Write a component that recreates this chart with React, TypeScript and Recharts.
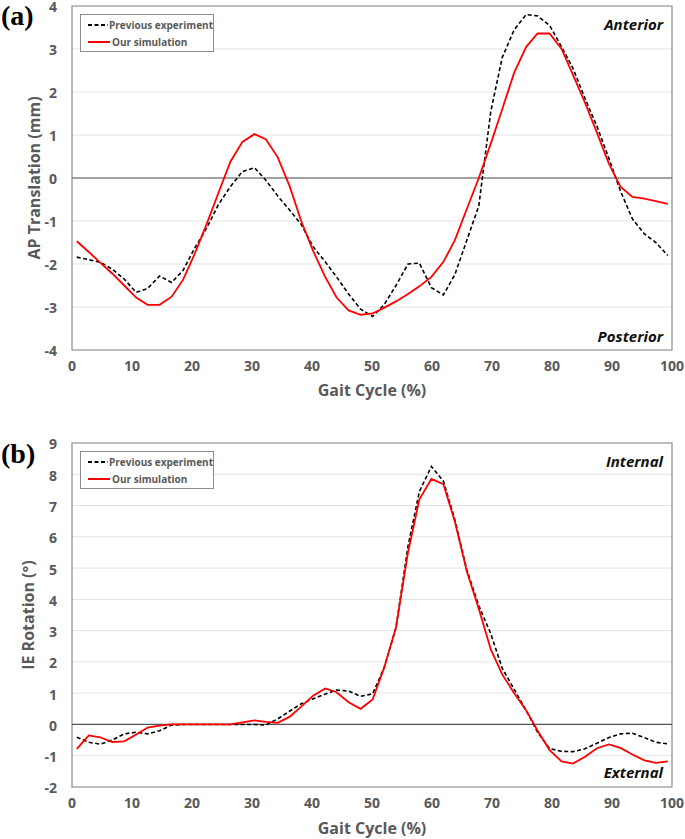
import React from "react";
import {
  LineChart,
  Line,
  XAxis,
  YAxis,
  CartesianGrid,
  ReferenceLine,
  ReferenceArea,
  Legend,
} from "recharts";

// gait cycle sample positions (%), shared by every series
const gaitCycle = [
  0.8, 2.8, 4.7, 6.7, 8.7, 10.7, 12.6, 14.6, 16.6, 18.5, 20.5, 22.5, 24.4, 26.4,
  28.4, 30.4, 32.3, 34.3, 36.3, 38.2, 40.2, 42.2, 44.1, 46.1, 48.1, 50.1, 52.0,
  54.0, 56.0, 57.9, 59.9, 61.9, 63.8, 65.8, 67.8, 69.8, 71.7, 73.7, 75.7, 77.6,
  79.6, 81.6, 83.5, 85.5, 87.5, 89.5, 91.4, 93.4, 95.4, 97.3, 99.3,
];

// (a) AP translation, mm
const apPrevious = [
  -1.84, -1.9, -1.96, -2.12, -2.35, -2.66, -2.57, -2.28, -2.43, -2.15, -1.62,
  -1.15, -0.62, -0.2, 0.15, 0.24, -0.05, -0.42, -0.75, -1.08, -1.6, -1.95, -2.3,
  -2.7, -3.05, -3.22, -2.95, -2.5, -2.0, -1.98, -2.55, -2.72, -2.25, -1.45,
  -0.65, 1.55, 2.8, 3.45, 3.8, 3.77, 3.55, 3.05, 2.55, 1.85, 1.2, 0.45, -0.3,
  -0.95, -1.3, -1.5, -1.8,
];
const apSimulation = [
  -1.47, -1.72, -1.97, -2.22, -2.5, -2.78, -2.95, -2.95, -2.76, -2.37, -1.75,
  -1.05, -0.35, 0.38, 0.84, 1.02, 0.9, 0.48, -0.2, -1.0, -1.7, -2.3, -2.78,
  -3.08, -3.18, -3.15, -3.02, -2.87, -2.7, -2.52, -2.3, -1.95, -1.45, -0.72,
  0.0, 0.8, 1.6, 2.45, 3.05, 3.36, 3.36, 3.0, 2.4, 1.75, 1.05, 0.33, -0.2,
  -0.44, -0.48, -0.54, -0.6,
];

// (b) IE rotation, degrees
const iePrevious = [
  -0.41, -0.57, -0.63, -0.5, -0.3, -0.25, -0.3, -0.2, -0.02, 0, 0, 0, 0, 0, 0,
  0, -0.02, 0.18, 0.43, 0.66, 0.82, 0.97, 1.1, 1.07, 0.9, 0.98, 1.8, 3.1, 5.7,
  7.45, 8.25, 7.78, 6.55, 4.95, 3.8, 2.9, 1.8, 1.12, 0.45, -0.25, -0.77, -0.86,
  -0.87, -0.78, -0.6, -0.42, -0.3, -0.28, -0.42, -0.57, -0.62,
];
const ieSimulation = [
  -0.78, -0.35, -0.41, -0.56, -0.54, -0.32, -0.1, -0.04, 0, 0, 0, 0, 0, 0,
  0.07, 0.13, 0.08, 0.05, 0.25, 0.57, 0.92, 1.15, 1.03, 0.71, 0.5, 0.8, 1.8,
  3.1, 5.5, 7.2, 7.85, 7.68, 6.5, 4.9, 3.7, 2.4, 1.6, 1.0, 0.45, -0.2, -0.82,
  -1.18, -1.25, -1.03, -0.76, -0.64, -0.75, -0.96, -1.15, -1.23, -1.18,
];

const xTicks = [0, 10, 20, 30, 40, 50, 60, 70, 80, 90, 100];
const apTicks = [-4, -3, -2, -1, 0, 1, 2, 3, 4];
const ieTicks = [-2, -1, 0, 1, 2, 3, 4, 5, 6, 7, 8, 9];
const seriesNames = ["Previous experiment", "Our simulation"];

const FONT = '"Open Sans", "Noto Sans", sans-serif';
const GRAY = "#595959";

const tickStyle = { fill: GRAY, fontSize: 14, fontWeight: 700, fontFamily: FONT };

// y tick sits ~1.5px under its gridline, like the original export
const YTick = ({ x, y, payload }: any) => (
  <text x={x} y={y + 1.5} dy="0.355em" textAnchor="end" {...tickStyle}>
    {payload.value}
  </text>
);

const LegendBox = ({ payload }: any) => {
  const items = [...(payload || [])].sort(
    (a: any, b: any) => seriesNames.indexOf(a.value) - seriesNames.indexOf(b.value)
  );
  return (
    <div
      style={{
        border: "1px solid #8c8c8c",
        background: "#fff",
        width: 134,
        height: 38,
        boxSizing: "border-box",
        fontFamily: FONT,
        fontWeight: 700,
        fontSize: 10,
        color: GRAY,
        paddingTop: 2,
        whiteSpace: "nowrap",
      }}
    >
      {items.map((p: any) => (
        <div key={p.value} style={{ display: "flex", alignItems: "center", height: 16.5 }}>
          <svg width={24} height={10} style={{ marginLeft: 6, marginRight: 1 }}>
            <line
              x1={1}
              y1={5}
              x2={23}
              y2={5}
              stroke={p.color}
              strokeWidth={2}
              strokeDasharray={p.payload?.strokeDasharray}
            />
          </svg>
          <span>{p.value}</span>
        </div>
      ))}
    </div>
  );
};

interface PanelProps {
  previous: number[];
  simulation: number[];
  yDomain: [number, number];
  yTicks: number[];
  height: number;
  top: number;
  xAxisHeight: number;
}

function Panel({ previous, simulation, yDomain, yTicks, height, top, xAxisHeight }: PanelProps) {
  const rows = gaitCycle.map((g, i) => ({ gait: g, previous: previous[i], simulation: simulation[i] }));
  return (
    <LineChart
      width={685}
      height={height}
      data={rows}
      margin={{ top, right: 13, left: 0, bottom: 0 }}
      style={{ overflow: "visible" }}
    >
      <CartesianGrid vertical={false} stroke="#e3e3e3" />
      <ReferenceArea
        x1={0}
        x2={100}
        y1={yDomain[0]}
        y2={yDomain[1]}
        fill="none"
        stroke="#8c8c8c"
        strokeWidth={1.2}
        ifOverflow="visible"
      />
      <ReferenceLine y={0} stroke="#555" strokeWidth={1.2} />
      <XAxis
        dataKey="gait"
        type="number"
        domain={[0, 100]}
        ticks={xTicks}
        tickLine={false}
        axisLine={false}
        tickSize={6}
        tickMargin={5}
        height={xAxisHeight}
        tick={tickStyle}
        interval={0}
      />
      <YAxis
        type="number"
        domain={yDomain}
        ticks={yTicks}
        tickLine={false}
        axisLine={false}
        tickSize={6}
        tickMargin={9}
        width={72}
        tick={<YTick />}
        interval={0}
      />
      <Legend
        layout="vertical"
        align="center"
        verticalAlign="middle"
        wrapperStyle={{ top: top + 8, left: 80, width: 134, height: 38 }}
        content={<LegendBox />}
      />
      <Line
        type="linear"
        dataKey="previous"
        name="Previous experiment"
        stroke="#000"
        strokeWidth={1.6}
        strokeDasharray="4 2.5"
        dot={false}
        isAnimationActive={false}
      />
      <Line
        type="linear"
        dataKey="simulation"
        name="Our simulation"
        stroke="#ff0000"
        strokeWidth={1.8}
        dot={false}
        isAnimationActive={false}
      />
    </LineChart>
  );
}

const abs = (style: React.CSSProperties): React.CSSProperties => ({ position: "absolute", ...style });

const panelLabel: React.CSSProperties = {
  fontFamily: '"Liberation Serif", "Times New Roman", serif',
  fontWeight: 700,
  fontSize: 28,
  lineHeight: 1,
  color: "#000",
};

const axisTitle: React.CSSProperties = {
  fontFamily: FONT,
  fontWeight: 700,
  fontSize: 16,
  color: GRAY,
  whiteSpace: "nowrap",
  lineHeight: 1,
};

const cornerNote: React.CSSProperties = {
  fontFamily: FONT,
  fontWeight: 700,
  fontStyle: "italic",
  fontSize: 15,
  color: "#111",
  whiteSpace: "nowrap",
  lineHeight: 1,
  transform: "translate(-100%, -50%)",
};

export default function App() {
  return (
    <div style={{ position: "absolute", left: 0, top: 0, width: 685, height: 839, background: "#fff" }}>
      <div style={abs({ left: 0, top: 0 })}>
        <Panel
          previous={apPrevious}
          simulation={apSimulation}
          yDomain={[-4, 4]}
          yTicks={apTicks}
          height={420}
          top={6}
          xAxisHeight={70}
        />
      </div>
      <div style={abs({ left: 0, top: 420 })}>
        <Panel
          previous={iePrevious}
          simulation={ieSimulation}
          yDomain={[-2, 9]}
          yTicks={ieTicks}
          height={419}
          top={23}
          xAxisHeight={52}
        />
      </div>

      <div style={abs({ left: 1, top: 2, ...panelLabel })}>(a)</div>
      <div style={abs({ left: 1, top: 440, ...panelLabel })}>(b)</div>

      <div style={abs({ left: 34, top: 178, ...axisTitle, transform: "translate(-50%, -50%) rotate(-90deg)" })}>
        AP Translation (mm)
      </div>
      <div style={abs({ left: 28, top: 615, ...axisTitle, transform: "translate(-50%, -50%) rotate(-90deg)" })}>
        IE Rotation (°)
      </div>
      <div style={abs({ left: 372, top: 390, ...axisTitle, transform: "translate(-50%, -50%)" })}>
        Gait Cycle (%)
      </div>
      <div style={abs({ left: 372, top: 828, ...axisTitle, transform: "translate(-50%, -50%)" })}>
        Gait Cycle (%)
      </div>

      <div style={abs({ left: 663, top: 24, ...cornerNote })}>Anterior</div>
      <div style={abs({ left: 663, top: 336, ...cornerNote })}>Posterior</div>
      <div style={abs({ left: 663, top: 461, ...cornerNote })}>Internal</div>
      <div style={abs({ left: 663, top: 772, ...cornerNote })}>External</div>
    </div>
  );
}
